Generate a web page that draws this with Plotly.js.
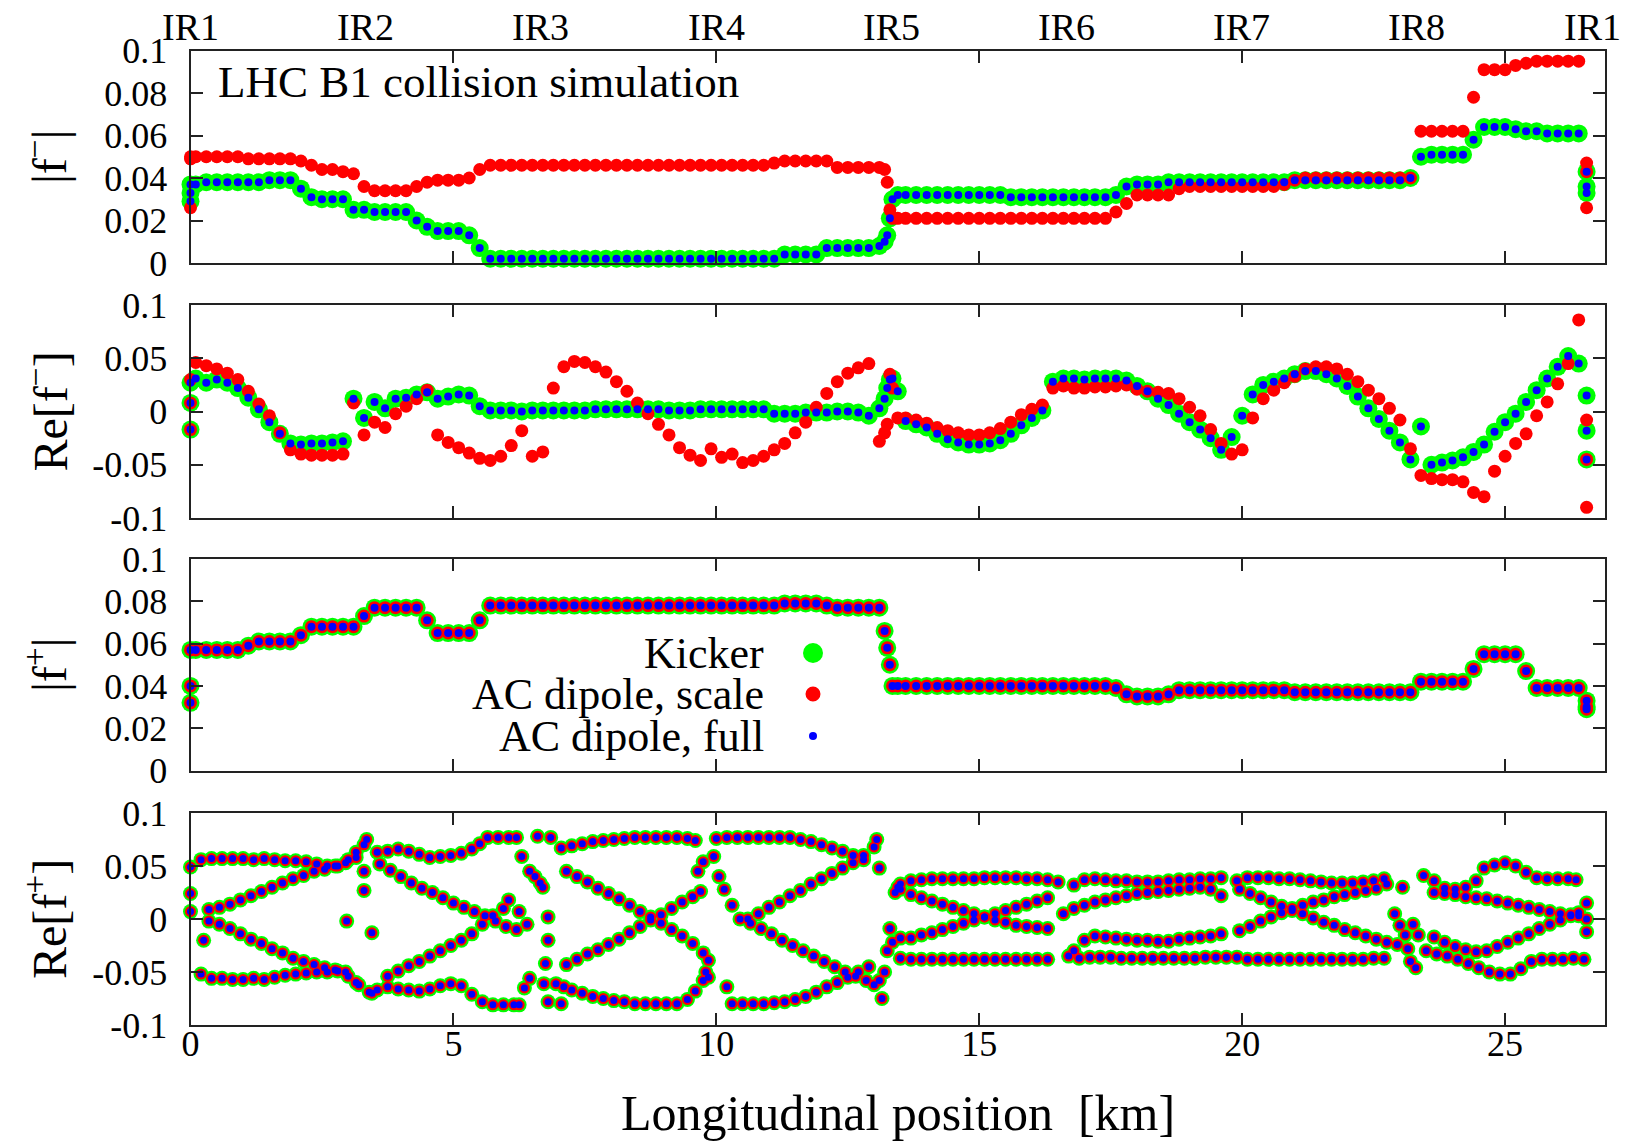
<!DOCTYPE html>
<html><head><meta charset="utf-8">
<script src="https://cdn.plot.ly/plotly-3.0.1.min.js"></script>
<style>html,body{margin:0;padding:0;background:#fff;}#chart{width:1628px;height:1141px;}</style>
</head><body><div id="chart"></div>
<script>
// ---------- DATA ----------
// BPM positions (km) shared by the |f-|, Re[f-] and |f+| panels
const sPos = [0, 0, 0,
 0.1, 0.3, 0.5, 0.7, 0.9, 1.1, 1.3, 1.5, 1.7, 1.9,
 2.1, 2.3, 2.5, 2.7, 2.9, 3.1, 3.3, 3.5, 3.7, 3.9,
 4.1, 4.3, 4.5, 4.7, 4.9, 5.1, 5.3, 5.5, 5.7, 5.9,
 6.1, 6.3, 6.5, 6.7, 6.9, 7.1, 7.3, 7.5, 7.7, 7.9,
 8.1, 8.3, 8.5, 8.7, 8.9, 9.1, 9.3, 9.5, 9.7, 9.9,
 10.1, 10.3, 10.5, 10.7, 10.9, 11.1, 11.3, 11.5, 11.7, 11.9,
 12.1, 12.3, 12.5, 12.7, 12.9, 13.1,
 13.2, 13.25, 13.3, 13.35, 13.45,
 13.6, 13.8, 14.0, 14.2, 14.4, 14.6, 14.8, 15.0, 15.2, 15.4,
 15.6, 15.8, 16.0, 16.2, 16.4, 16.6, 16.8, 17.0, 17.2, 17.4,
 17.6, 17.8, 18.0, 18.2, 18.4, 18.6, 18.8, 19.0, 19.2, 19.4,
 19.6, 19.8, 20.0, 20.2, 20.4, 20.6, 20.8, 21.0, 21.2, 21.4,
 21.6, 21.8, 22.0, 22.2, 22.4, 22.6, 22.8, 23.0, 23.2, 23.4,
 23.6, 23.8, 24.0, 24.2, 24.4, 24.6, 24.8, 25.0, 25.2, 25.4,
 25.6, 25.8, 26.0, 26.2, 26.4,
 26.55, 26.55, 26.55];

// |f-| : kicker (= AC dipole full) and AC dipole scale
const absMinusKick = [0.029, 0.033, 0.037,
 0.037, 0.038, 0.038, 0.038, 0.038, 0.038, 0.038, 0.039, 0.039, 0.039,
 0.035, 0.031, 0.030, 0.030, 0.030, 0.025, 0.025, 0.024, 0.024, 0.024,
 0.024, 0.020, 0.017, 0.015, 0.015, 0.015, 0.013, 0.007, 0.002, 0.002,
 0.002, 0.002, 0.002, 0.002, 0.002, 0.002, 0.002, 0.002, 0.002, 0.002,
 0.002, 0.002, 0.002, 0.002, 0.002, 0.002, 0.002, 0.002, 0.002, 0.002,
 0.002, 0.002, 0.002, 0.002, 0.002, 0.002, 0.004, 0.004, 0.004, 0.004,
 0.007, 0.007, 0.007, 0.007, 0.007, 0.008,
 0.010, 0.013, 0.021, 0.030, 0.032,
 0.032, 0.032, 0.032, 0.032, 0.032, 0.032, 0.032, 0.032, 0.032, 0.032,
 0.031, 0.031, 0.031, 0.031, 0.031, 0.031, 0.031, 0.031, 0.031, 0.031,
 0.032, 0.036, 0.037, 0.037, 0.037, 0.038, 0.038, 0.038, 0.038, 0.038,
 0.038, 0.038, 0.038, 0.038, 0.038, 0.038, 0.038, 0.039, 0.039, 0.039,
 0.039, 0.039, 0.039, 0.039, 0.039, 0.039, 0.039, 0.039, 0.040, 0.050,
 0.051, 0.051, 0.051, 0.051, 0.058, 0.064, 0.064, 0.064, 0.063, 0.062,
 0.062, 0.061, 0.061, 0.061, 0.061,
 0.043, 0.036, 0.033];
const absMinusScale = [0.026, 0.049, 0.050,
 0.050, 0.050, 0.050, 0.050, 0.050, 0.049, 0.049, 0.049, 0.049, 0.049,
 0.048, 0.046, 0.044, 0.044, 0.043, 0.042, 0.036, 0.034, 0.034, 0.034,
 0.034, 0.036, 0.038, 0.039, 0.039, 0.039, 0.040, 0.044, 0.046, 0.046,
 0.046, 0.046, 0.046, 0.046, 0.046, 0.046, 0.046, 0.046, 0.046, 0.046,
 0.046, 0.046, 0.046, 0.046, 0.046, 0.046, 0.046, 0.046, 0.046, 0.046,
 0.046, 0.046, 0.046, 0.046, 0.046, 0.047, 0.048, 0.048, 0.048, 0.048,
 0.048, 0.045, 0.045, 0.045, 0.045, 0.045,
 0.044, 0.038, 0.025, 0.021, 0.021,
 0.021, 0.021, 0.021, 0.021, 0.021, 0.021, 0.021, 0.021, 0.021, 0.021,
 0.021, 0.021, 0.021, 0.021, 0.021, 0.021, 0.021, 0.021, 0.021, 0.021,
 0.024, 0.028, 0.032, 0.032, 0.032, 0.032, 0.035, 0.036, 0.036, 0.036,
 0.036, 0.036, 0.036, 0.036, 0.036, 0.036, 0.037, 0.039, 0.040, 0.040,
 0.040, 0.040, 0.040, 0.040, 0.040, 0.040, 0.040, 0.040, 0.040, 0.062,
 0.062, 0.062, 0.062, 0.062, 0.078, 0.091, 0.091, 0.091, 0.093, 0.094,
 0.095, 0.095, 0.095, 0.095, 0.095,
 0.047, 0.043, 0.026];

// Re[f-]
const reMinusKick = [0.027, 0.008, -0.017,
 0.031, 0.027, 0.030, 0.027, 0.022, 0.013, 0.002, -0.010, -0.021, -0.030,
 -0.031, -0.030, -0.030, -0.029, -0.028, 0.012, -0.006, 0.009, 0.003, 0.012,
 0.013, 0.016, 0.018, 0.012, 0.014, 0.016, 0.015, 0.005, 0.001, 0.001,
 0.001, 0.000, 0.001, 0.001, 0.001, 0.001, 0.001, 0.001, 0.002, 0.002,
 0.002, 0.002, 0.002, 0.002, 0.002, 0.001, 0.001, 0.001, 0.002, 0.002,
 0.002, 0.002, 0.002, 0.002, 0.002, -0.002, -0.002, -0.002, -0.001, -0.001,
 -0.001, 0.000, 0.000, -0.001, -0.004, 0.003,
 0.012, 0.022, 0.030, 0.031, 0.019,
 -0.009, -0.012, -0.015, -0.021, -0.026, -0.029, -0.031, -0.031, -0.030, -0.027,
 -0.021, -0.013, -0.006, 0.001, 0.028, 0.031, 0.031, 0.030, 0.031, 0.031,
 0.031, 0.029, 0.024, 0.019, 0.012, 0.006, -0.002, -0.010, -0.017, -0.025,
 -0.036, -0.024, -0.004, 0.016, 0.025, 0.028, 0.031, 0.035, 0.038, 0.038,
 0.035, 0.031, 0.024, 0.014, 0.003, -0.007, -0.018, -0.029, -0.045, -0.014,
 -0.050, -0.048, -0.046, -0.043, -0.038, -0.031, -0.019, -0.010, -0.002, 0.009,
 0.020, 0.031, 0.042, 0.052, 0.045,
 0.015, -0.018, -0.045];
const reMinusScale = [0.030, 0.008, -0.017,
 0.046, 0.043, 0.040, 0.036, 0.030, 0.019, 0.007, -0.004, -0.020, -0.036,
 -0.040, -0.041, -0.041, -0.041, -0.040, 0.008, -0.022, -0.010, -0.015, -0.002,
 0.005, 0.012, 0.020, -0.022, -0.029, -0.034, -0.039, -0.044, -0.046, -0.042,
 -0.032, -0.018, -0.042, -0.038, 0.022, 0.042, 0.047, 0.046, 0.042, 0.037,
 0.028, 0.019, 0.008, -0.002, -0.012, -0.022, -0.034, -0.041, -0.046, -0.035,
 -0.043, -0.040, -0.048, -0.046, -0.042, -0.036, -0.030, -0.020, -0.010, 0.004,
 0.017, 0.028, 0.036, 0.041, 0.045, -0.028,
 -0.020, -0.012, 0.035, 0.022, -0.006,
 -0.006, -0.008, -0.011, -0.015, -0.018, -0.020, -0.022, -0.022, -0.020, -0.016,
 -0.010, -0.003, 0.002, 0.006, 0.022, 0.024, 0.022, 0.022, 0.023, 0.023,
 0.024, 0.025, 0.021, 0.019, 0.018, 0.017, 0.012, 0.004, -0.004, -0.017,
 -0.030, -0.040, -0.036, -0.006, 0.012, 0.020, 0.027, 0.033, 0.040, 0.042,
 0.042, 0.040, 0.035, 0.028, 0.020, 0.012, 0.003, -0.008, -0.035, -0.060,
 -0.063, -0.064, -0.064, -0.066, -0.076, -0.080, -0.056, -0.042, -0.030, -0.021,
 -0.004, 0.009, 0.026, 0.045, 0.086,
 -0.008, -0.045, -0.090];

// |f+| (kicker, scale and full coincide)
const absPlus = [0.057, 0.040, 0.032,
 0.057, 0.057, 0.057, 0.057, 0.057, 0.059, 0.061, 0.061, 0.061, 0.061,
 0.064, 0.068, 0.068, 0.068, 0.068, 0.068, 0.073, 0.077, 0.077, 0.077,
 0.077, 0.077, 0.071, 0.065, 0.065, 0.065, 0.065, 0.071, 0.078, 0.078,
 0.078, 0.078, 0.078, 0.078, 0.078, 0.078, 0.078, 0.078, 0.078, 0.078,
 0.078, 0.078, 0.078, 0.078, 0.078, 0.078, 0.078, 0.078, 0.078, 0.078,
 0.078, 0.078, 0.078, 0.078, 0.078, 0.078, 0.079, 0.079, 0.079, 0.079,
 0.078, 0.077, 0.077, 0.077, 0.077, 0.077,
 0.066, 0.058, 0.050, 0.040, 0.040,
 0.040, 0.040, 0.040, 0.040, 0.040, 0.040, 0.040, 0.040, 0.040, 0.040,
 0.040, 0.040, 0.040, 0.040, 0.040, 0.040, 0.040, 0.040, 0.040, 0.040,
 0.039, 0.036, 0.035, 0.035, 0.035, 0.036, 0.038, 0.038, 0.038, 0.038,
 0.038, 0.038, 0.038, 0.038, 0.038, 0.038, 0.038, 0.037, 0.037, 0.037,
 0.037, 0.037, 0.037, 0.037, 0.037, 0.037, 0.037, 0.037, 0.037, 0.042,
 0.042, 0.042, 0.042, 0.042, 0.048, 0.055, 0.055, 0.055, 0.055, 0.047,
 0.039, 0.039, 0.039, 0.039, 0.039,
 0.033, 0.030, 0.029];

// Re[f+] (all three coincide): [position km, value] along each visible branch
const rePlusTop = [
 [0.2,0.056],[0.4,0.057],[0.6,0.057],[0.8,0.057],[1.0,0.057],[1.2,0.056],[1.4,0.057],[1.6,0.056],[1.8,0.055],[2.0,0.055],[2.2,0.054],[2.4,0.052],[2.6,0.050],[2.8,0.050],[3.0,0.056],[3.15,0.063],
 [3.55,0.063],[3.75,0.064],[3.95,0.066],[4.15,0.064],[4.35,0.061],[4.55,0.058],[4.75,0.059],[4.95,0.060],[5.15,0.062],[5.35,0.066],[5.5,0.071],[5.65,0.077],[5.85,0.077],[6.05,0.077],[6.2,0.077],
 [7.05,0.067],[7.25,0.069],[7.45,0.071],[7.65,0.073],[7.85,0.074],[8.05,0.075],[8.25,0.076],[8.45,0.077],[8.65,0.077],[8.85,0.077],[9.05,0.077],[9.25,0.077],[9.45,0.076],[9.6,0.074],
 [10.2,0.077],[10.4,0.077],[10.6,0.077],[10.8,0.077],[11.0,0.077],[11.2,0.077],[11.4,0.077],[11.6,0.075],[11.8,0.073],[12.0,0.070],[12.2,0.067],[12.4,0.064],[12.6,0.060],[12.8,0.056],
 [13.5,0.033],[13.7,0.036],[13.9,0.037],[14.1,0.038],[14.3,0.038],[14.5,0.038],[14.7,0.038],[14.9,0.038],[15.1,0.039],[15.3,0.039],[15.5,0.039],[15.7,0.039],[15.9,0.038],[16.1,0.038],[16.3,0.037],[16.5,0.035],
 [16.8,0.032],[17.0,0.037],[17.2,0.038],[17.4,0.037],[17.6,0.036],[17.8,0.036],[18.0,0.035],[18.2,0.035],[18.4,0.035],[18.6,0.036],[18.8,0.037],[19.0,0.037],[19.2,0.038],[19.4,0.038],[19.6,0.039],
 [19.9,0.036],[20.1,0.039],[20.3,0.039],[20.5,0.039],[20.7,0.038],[20.9,0.038],[21.1,0.037],[21.3,0.036],[21.5,0.035],[21.7,0.034],[21.9,0.034],[22.1,0.034],[22.3,0.035],[22.5,0.036],[22.7,0.038],
 [23.45,0.041],[23.65,0.036],[23.85,0.029],[24.05,0.028],[24.25,0.030],[24.45,0.036],[24.6,0.048],[24.8,0.051],[25.0,0.053],[25.2,0.050],[25.4,0.044],[25.6,0.039],[25.8,0.038],[26.0,0.038],[26.2,0.038],[26.35,0.037]];
const rePlusFall = [
 [0.35,-0.002],[0.55,-0.005],[0.75,-0.009],[0.95,-0.014],[1.15,-0.019],[1.35,-0.023],[1.55,-0.028],[1.75,-0.032],[1.95,-0.037],[2.15,-0.040],[2.35,-0.043],[2.55,-0.046],[2.75,-0.048],[2.95,-0.050],[3.15,-0.060],[3.4,-0.069],
 [3.6,0.052],[3.8,0.046],[4.0,0.040],[4.2,0.034],[4.4,0.029],[4.6,0.025],[4.8,0.020],[5.0,0.015],[5.2,0.011],[5.4,0.007],[5.6,0.003],[5.8,-0.002],[6.0,-0.007],[6.2,-0.010],[6.4,-0.005],
 [7.15,0.045],[7.35,0.040],[7.55,0.035],[7.75,0.029],[7.95,0.024],[8.15,0.019],[8.35,0.013],[8.55,0.007],[8.75,0.002],[8.95,-0.004],[9.15,-0.010],[9.35,-0.016],[9.55,-0.023],[9.75,-0.032],[9.85,-0.039],
 [10.05,0.040],[10.15,0.028],[10.3,0.013],[10.45,0.000],[10.65,-0.004],[10.85,-0.009],[11.05,-0.014],[11.25,-0.020],[11.45,-0.025],[11.65,-0.030],[11.85,-0.035],[12.05,-0.040],[12.25,-0.045],[12.45,-0.050],[12.65,-0.054],[12.85,-0.058],[13.0,-0.062],
 [13.5,0.028],[13.7,0.023],[13.9,0.020],[14.1,0.017],[14.3,0.014],[14.5,0.011],[14.7,0.008],[14.9,0.005],[15.1,0.002],[15.3,-0.001],[15.5,-0.003],[15.7,-0.006],[15.9,-0.007],[16.1,-0.008],[16.3,-0.009],
 [16.8,-0.030],[17.0,-0.020],[17.2,-0.016],[17.4,-0.017],[17.6,-0.018],[17.8,-0.019],[18.0,-0.020],[18.2,-0.020],[18.4,-0.021],[18.6,-0.021],[18.8,-0.019],[19.0,-0.018],[19.2,-0.017],[19.4,-0.016],[19.6,-0.014],
 [19.95,0.028],[20.15,0.024],[20.35,0.020],[20.55,0.016],[20.75,0.012],[20.95,0.008],[21.15,0.005],[21.35,0.001],[21.55,-0.003],[21.75,-0.006],[21.95,-0.010],[22.15,-0.013],[22.35,-0.016],[22.55,-0.019],[22.75,-0.022],[22.95,-0.024],
 [23.65,0.025],[23.85,0.024],[24.05,0.023],[24.25,0.021],[24.45,0.020],[24.65,0.019],[24.85,0.017],[25.05,0.015],[25.25,0.013],[25.45,0.011],[25.65,0.009],[25.85,0.007],[26.05,0.005],[26.25,0.004],[26.4,0.003]];
const rePlusRise = [
 [0.35,0.009],[0.55,0.011],[0.75,0.014],[0.95,0.018],[1.15,0.022],[1.35,0.026],[1.55,0.030],[1.75,0.034],[1.95,0.038],[2.15,0.041],[2.35,0.045],[2.55,0.047],[2.75,0.050],[2.95,0.053],[3.15,0.058],[3.3,0.070],
 [3.75,-0.054],[3.95,-0.049],[4.15,-0.044],[4.35,-0.040],[4.55,-0.035],[4.75,-0.030],[4.95,-0.025],[5.15,-0.020],[5.35,-0.014],[5.55,-0.005],[5.75,0.003],[5.95,0.010],[6.05,0.018],[6.25,0.007],
 [7.15,-0.043],[7.35,-0.038],[7.55,-0.033],[7.75,-0.029],[7.95,-0.024],[8.15,-0.019],[8.35,-0.013],[8.55,-0.007],[8.75,-0.001],[8.95,0.004],[9.15,0.010],[9.35,0.016],[9.55,0.021],[9.7,0.026],
 [10.6,0.000],[10.8,0.005],[11.0,0.011],[11.2,0.016],[11.4,0.022],[11.6,0.027],[11.8,0.033],[12.0,0.038],[12.2,0.043],[12.4,0.048],[12.6,0.053],[12.8,0.060],[13.0,0.068],[13.05,0.075],
 [13.5,-0.018],[13.7,-0.018],[13.9,-0.015],[14.1,-0.013],[14.3,-0.010],[14.5,-0.007],[14.7,-0.004],[14.9,-0.001],[15.1,0.002],[15.3,0.005],[15.5,0.008],[15.7,0.011],[15.9,0.014],[16.1,0.017],[16.3,0.020],
 [16.6,0.005],[16.8,0.010],[17.0,0.013],[17.2,0.016],[17.4,0.018],[17.6,0.020],[17.8,0.022],[18.0,0.024],[18.2,0.025],[18.4,0.026],[18.6,0.027],[18.8,0.028],[19.0,0.029],[19.2,0.030],[19.4,0.028],[19.6,0.022],
 [19.95,-0.011],[20.15,-0.007],[20.35,-0.002],[20.55,0.002],[20.75,0.006],[20.95,0.010],[21.15,0.013],[21.35,0.016],[21.55,0.018],[21.75,0.021],[21.95,0.023],[22.15,0.025],[22.35,0.027],[22.55,0.029],[22.75,0.033],
 [23.65,-0.017],[23.85,-0.022],[24.05,-0.026],[24.25,-0.029],[24.45,-0.031],[24.65,-0.030],[24.85,-0.026],[25.05,-0.022],[25.25,-0.018],[25.45,-0.014],[25.65,-0.009],[25.85,-0.005],[26.05,-0.001],[26.25,0.003],[26.4,0.006]];
const rePlusBottom = [
 [0.2,-0.052],[0.4,-0.056],[0.6,-0.056],[0.8,-0.057],[1.0,-0.057],[1.2,-0.056],[1.4,-0.057],[1.6,-0.055],[1.8,-0.053],[2.0,-0.052],[2.2,-0.051],[2.4,-0.050],[2.6,-0.050],[2.8,-0.049],[3.0,-0.054],[3.2,-0.062],
 [3.55,-0.067],[3.75,-0.064],[3.95,-0.066],[4.15,-0.067],[4.35,-0.068],[4.55,-0.066],[4.75,-0.063],[4.95,-0.061],[5.15,-0.063],[5.35,-0.071],[5.55,-0.078],[5.75,-0.081],[5.95,-0.081],[6.15,-0.081],[6.25,-0.081],
 [6.95,-0.061],[7.1,-0.064],[7.25,-0.067],[7.45,-0.070],[7.65,-0.073],[7.85,-0.075],[8.05,-0.077],[8.25,-0.078],[8.45,-0.080],[8.65,-0.080],[8.85,-0.080],[9.05,-0.080],[9.25,-0.080],[9.45,-0.076],[9.6,-0.068],[9.75,-0.058],[9.85,-0.055],
 [10.3,-0.080],[10.5,-0.080],[10.7,-0.080],[10.9,-0.080],[11.1,-0.079],[11.3,-0.078],[11.5,-0.076],[11.7,-0.073],[11.9,-0.069],[12.1,-0.064],[12.3,-0.060],[12.5,-0.055],[12.7,-0.050],[12.9,-0.045],
 [13.5,-0.037],[13.7,-0.038],[13.9,-0.038],[14.1,-0.038],[14.3,-0.038],[14.5,-0.038],[14.7,-0.038],[14.9,-0.038],[15.1,-0.038],[15.3,-0.038],[15.5,-0.038],[15.7,-0.038],[15.9,-0.038],[16.1,-0.038],[16.3,-0.038],
 [16.7,-0.035],[16.9,-0.037],[17.1,-0.036],[17.3,-0.036],[17.5,-0.036],[17.7,-0.037],[17.9,-0.037],[18.1,-0.037],[18.3,-0.037],[18.5,-0.037],[18.7,-0.037],[18.9,-0.037],[19.1,-0.037],[19.3,-0.036],[19.5,-0.036],[19.7,-0.036],
 [19.9,-0.036],[20.1,-0.038],[20.3,-0.038],[20.5,-0.038],[20.7,-0.038],[20.9,-0.038],[21.1,-0.038],[21.3,-0.038],[21.5,-0.038],[21.7,-0.038],[21.9,-0.038],[22.1,-0.038],[22.3,-0.038],[22.5,-0.037],[22.7,-0.037],
 [23.5,-0.030],[23.7,-0.033],[23.9,-0.035],[24.1,-0.038],[24.3,-0.042],[24.5,-0.046],[24.7,-0.050],[24.9,-0.052],[25.1,-0.052],[25.3,-0.047],[25.5,-0.040],[25.7,-0.038],[25.9,-0.038],[26.1,-0.038],[26.3,-0.037]];
const rePlusExtra = [
 [0,0.049],[0,0.024],[0,0.007],[0.25,-0.020],
 [2.97,-0.002],[3.3,0.027],[3.3,0.045],[3.35,0.075],[3.45,-0.013],[3.45,-0.070],
 [6.3,0.059],[6.45,0.045],[6.55,0.040],[6.65,0.034],[6.7,0.030],[6.8,0.002],[6.8,-0.020],[6.75,-0.042],[6.72,-0.061],[6.35,-0.065],[6.45,-0.056],[6.8,-0.078],[7.05,-0.080],[6.6,0.078],[6.85,0.077],
 [9.65,0.045],[9.75,0.054],[9.95,0.059],[10.0,0.076],[10.2,-0.064],[9.8,-0.050],
 [13.1,0.048],[13.1,-0.058],[13.15,-0.075],[13.2,-0.050],[13.25,-0.030],[13.3,-0.009],[13.35,-0.022],[13.4,0.025],[13.45,0.030],
 [22.9,0.005],[23.0,-0.006],[23.1,-0.015],[23.15,-0.028],[23.2,-0.040],[23.3,-0.046],[23.35,-0.015],[23.05,0.030],[23.25,-0.005],
 [26.55,0.015],[26.55,0.0],[26.55,-0.012],[26.5,-0.038]];

const irNames = ['IR1','IR2','IR3','IR4','IR5','IR6','IR7','IR8','IR1'];
const irPos = [0, 3.332, 6.664, 9.997, 13.329, 16.661, 19.994, 23.315, 26.659];
const xTicks = [0, 5, 10, 15, 20, 25];
const xTickText = ['0', '5', '10', '15', '20', '25'];
const yTicksAbs = [0, 0.02, 0.04, 0.06, 0.08, 0.1];
const yTextAbs = ['0', '0.02', '0.04', '0.06', '0.08', '0.1'];
const yTicksRe = [-0.1, -0.05, 0, 0.05, 0.1];
const yTextRe = ['-0.1', '-0.05', '0', '0.05', '0.1'];
const seriesNames = ['Kicker', 'AC dipole, scale', 'AC dipole, full'];
const panelTitles = ['|f<sup>\u2212</sup>|', 'Re[f<sup>\u2212</sup>]', '|f<sup>+</sup>|', 'Re[f<sup>+</sup>]'];

// ---------- LAYOUT / STYLE ----------
const W = 1628, H = 1141;
const FONT = 'Liberation Serif';
const colors = ['#00ff00', '#ff0000', '#0000ff'];
const sizesBand = [18, 13, 8];   // panels with dense bands
const sizesDots = [15, 11, 7];   // Re[f+] panel
const legendSizes = [20, 15, 8];
const xDom = [190.5 / W, 1605 / W];
const panelsPx = [[50.5, 263], [305, 518], [559, 770.5], [813, 1025]];
const yDom = p => [1 - p[1] / H, 1 - p[0] / H];

const rePlusAll = [].concat(rePlusTop, rePlusFall, rePlusRise, rePlusBottom, rePlusExtra);
const rpX = rePlusAll.map(p => p[0]);
const rpY = rePlusAll.map(p => p[1]);

const panelData = [
  {x: [sPos, sPos, sPos], y: [absMinusKick, absMinusScale, absMinusKick]},
  {x: [sPos, sPos, sPos], y: [reMinusKick, reMinusScale, reMinusKick]},
  {x: [sPos, sPos, sPos], y: [absPlus, absPlus, absPlus]},
  {x: [rpX, rpX, rpX], y: [rpY, rpY, rpY]}
];

const traces = [];
panelData.forEach((pd, k) => {
  const sz = k === 3 ? sizesDots : sizesBand;
  for (let s = 0; s < 3; s++) {
    traces.push({
      type: 'scatter', mode: 'markers', name: seriesNames[s],
      x: pd.x[s], y: pd.y[s],
      xaxis: k === 0 ? 'x' : 'x' + (k + 1),
      yaxis: k === 0 ? 'y' : 'y' + (k + 1),
      cliponaxis: false, showlegend: false, hoverinfo: 'skip',
      marker: {color: colors[s], size: sz[s], line: {width: 0}}
    });
  }
});

const axisCommon = {
  showline: true, linecolor: '#222', linewidth: 2, mirror: 'ticks',
  ticks: 'inside', ticklen: 12, tickwidth: 2, tickcolor: '#222',
  showgrid: false, zeroline: false,
  tickfont: {family: FONT, size: 36, color: '#000'}
};

const layout = {
  width: W, height: H, margin: {l: 0, r: 0, t: 0, b: 0},
  paper_bgcolor: '#fff', plot_bgcolor: 'rgba(0,0,0,0)', showlegend: false,
  font: {family: FONT, color: '#000'},
  annotations: [], shapes: []
};

panelsPx.forEach((p, k) => {
  const xa = k === 0 ? 'xaxis' : 'xaxis' + (k + 1);
  const ya = k === 0 ? 'yaxis' : 'yaxis' + (k + 1);
  const isRe = (k === 1 || k === 3);
  layout[xa] = Object.assign({}, axisCommon, {
    domain: xDom, range: [0, 26.9], anchor: k === 0 ? 'y' : 'y' + (k + 1),
    tickmode: 'array', tickvals: xTicks, ticktext: xTickText,
    showticklabels: k === 3, ticklabelstandoff: -14
  });
  layout[ya] = Object.assign({}, axisCommon, {
    domain: yDom(p), range: isRe ? [-0.1, 0.1] : [0, 0.1],
    anchor: k === 0 ? 'x' : 'x' + (k + 1),
    tickmode: 'array', tickvals: isRe ? yTicksRe : yTicksAbs, ticktext: isRe ? yTextRe : yTextAbs,
    ticklabelstandoff: 14
  });
  // panel y-axis title
  layout.annotations.push({
    xref: 'paper', yref: 'paper', x: 46 / W, y: 1 - (p[0] + p[1]) / 2 / H,
    text: panelTitles[k], textangle: -90, showarrow: false,
    xanchor: 'center', yanchor: 'middle',
    font: {family: FONT, size: 48, color: '#000'}
  });
});

// IR labels on top
irNames.forEach((n, i) => {
  layout.annotations.push({
    xref: 'x', yref: 'paper', x: irPos[i], y: 1 - 27 / H, text: n, showarrow: false,
    xanchor: 'center', yanchor: 'middle', font: {family: FONT, size: 38, color: '#000'}
  });
});

// Panel label
layout.annotations.push({
  xref: 'paper', yref: 'paper', x: 216 / W, y: 1 - 82 / H, text: 'LHC B1 collision simulation',
  showarrow: false, xanchor: 'left', yanchor: 'middle', font: {family: FONT, size: 45, color: '#000'}
});

// X title
layout.annotations.push({
  xref: 'paper', yref: 'paper', x: (xDom[0] + xDom[1]) / 2, y: 1 - 1113 / H,
  text: 'Longitudinal position&nbsp;&nbsp;[km]', showarrow: false,
  xanchor: 'center', yanchor: 'middle', font: {family: FONT, size: 50, color: '#000'}
});

// Legend (gnuplot style: text right-aligned, symbol to the right)
const legendRowsPx = [653, 694, 736];
seriesNames.forEach((n, s) => {
  layout.annotations.push({
    xref: 'paper', yref: 'paper', x: 766 / W, y: 1 - legendRowsPx[s] / H, text: n,
    showarrow: false, xanchor: 'right', yanchor: 'middle',
    font: {family: FONT, size: 44, color: '#000'}
  });
  const r = legendSizes[s] / 2;
  layout.shapes.push({
    type: 'circle', xref: 'paper', yref: 'paper', xsizemode: 'pixel', ysizemode: 'pixel',
    xanchor: 813 / W, yanchor: 1 - legendRowsPx[s] / H, x0: -r, x1: r, y0: -r, y1: r,
    fillcolor: colors[s], line: {width: 0}
  });
});

Plotly.newPlot('chart', traces, layout, {staticPlot: true, displayModeBar: false});
</script>
</body></html>
